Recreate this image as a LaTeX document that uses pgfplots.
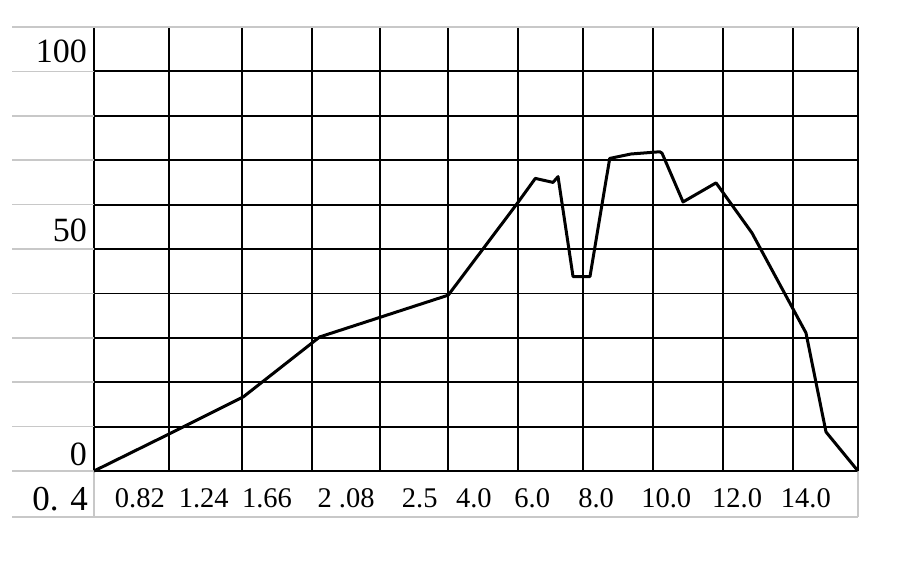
\documentclass[border=0pt]{standalone}
\usepackage{fontspec}
\setmainfont{Liberation Serif}
\usepackage{pgfplots}
\pgfplotsset{compat=1.18}
\definecolor{cellgray}{RGB}{200,200,200}
\begin{document}
\begin{tikzpicture}
\begin{axis}[
    scale only axis,
    width=764pt, height=444pt,
    xmin=0, xmax=11, ymin=0, ymax=100,
    axis line style={draw=none},
    tick style={draw=none},
    major tick length=0pt, minor tick length=0pt,
    xtick={0.66,1.58,2.49,3.63,4.69,5.47,6.31,7.23,8.24,9.26,10.25},
    xticklabels={0.82,1.24,1.66,2 .08,2.5,4.0,6.0,8.0,10.0,12.0,14.0},
    minor xtick={0,1.08,2.13,3.14,4.12,5.10,6.10,7.04,8.05,9.06,10.06,11},
    ytick={3.8,54.3,94.6},
    yticklabels={0,50,100},
    minor ytick={0,10,20,30,40,50,60,70,80,90},
    xmajorgrids=false, ymajorgrids=false,
    xminorgrids=true, yminorgrids=true,
    minor grid style={black, line width=1.8pt},
    xticklabel style={font=\fontsize{28.5}{30}\selectfont, anchor=north, inner sep=0pt, yshift=-17pt},
    yticklabel style={font=\fontsize{34}{36}\selectfont, anchor=east, inner sep=0pt, xshift=-7pt},
    clip=false,
]
% gray table rules round the labels
\draw[cellgray, line width=1.6pt] (axis cs:-1.18,100) -- (axis cs:11,100);
\pgfplotsinvokeforeach{0,10,...,90}{
  \draw[cellgray, line width=1.6pt] (axis cs:-1.18,#1) -- (axis cs:0,#1);
}
\draw[cellgray, line width=1.6pt] (axis cs:-1.18,-10.4) -- (axis cs:11,-10.4);
\draw[cellgray, line width=1.6pt] (axis cs:0,0) -- (axis cs:0,-10.4);
\draw[cellgray, line width=1.6pt] (axis cs:11,0) -- (axis cs:11,-10.4);
\addplot[black, line width=3pt, line join=round] coordinates {
  (0,0) (1.05,8.1) (2.15,16.7) (3.25,30.2) (5.10,39.6) (6.10,60.4)
  (6.354,65.9) (6.609,65.0) (6.681,66.3) (6.897,43.8) (7.141,43.8)
  (7.425,70.4) (7.732,71.4) (8.145,71.9) (8.178,71.6) (8.481,60.6)
  (8.956,64.9) (9.474,53.6) (10.251,31.1) (10.539,8.8) (11,0)
};
\node[anchor=east, inner sep=0pt, font=\fontsize{35}{36}\selectfont]
  at (axis cs:0,0) [xshift=-6pt, yshift=-28pt] {0. 4};
\end{axis}
\pgfresetboundingbox
\useasboundingbox (-94pt,-92pt) rectangle (824pt,471pt);
\end{tikzpicture}
\end{document}
